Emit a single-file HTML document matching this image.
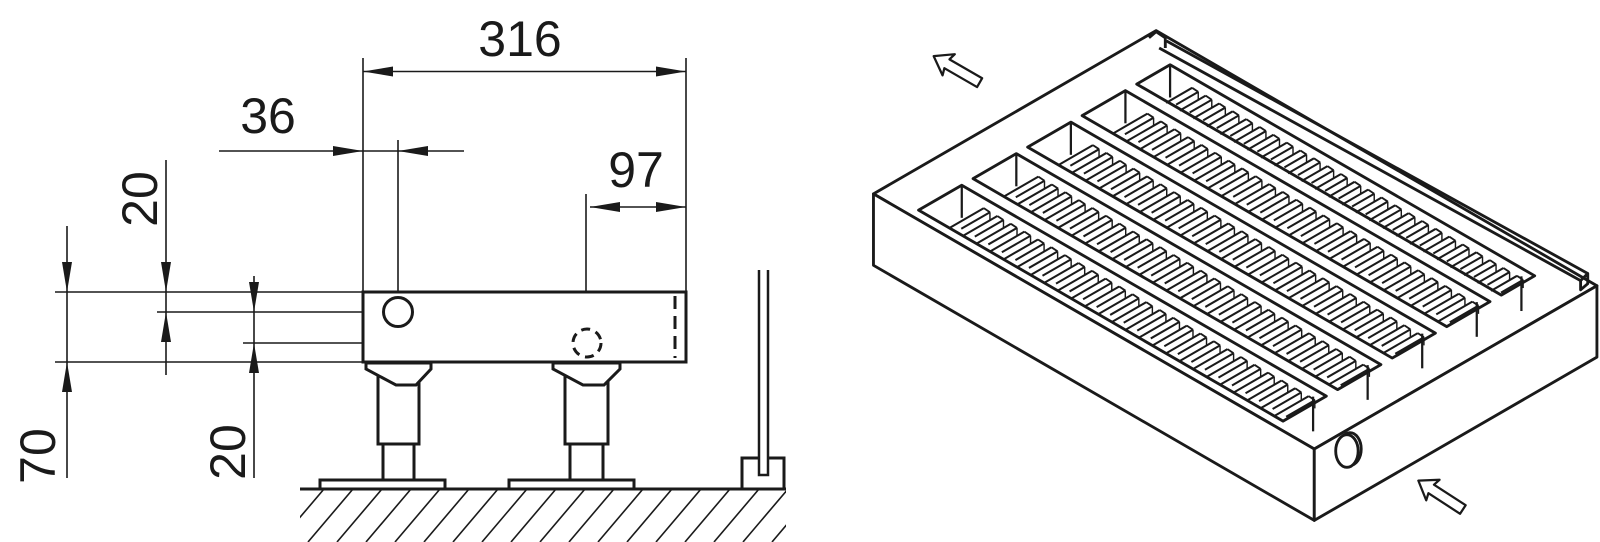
<!DOCTYPE html>
<html><head><meta charset="utf-8"><style>
html,body{margin:0;padding:0;background:#fff;width:1600px;height:542px;overflow:hidden}
svg{display:block}
text{font-family:"Liberation Sans",sans-serif;font-size:50px;fill:#1a1a1a}
</style></head><body>
<svg id="s" width="1600" height="542" viewBox="0 0 1600 542" xmlns="http://www.w3.org/2000/svg">
<defs><clipPath id="gc"><rect x="300" y="490" width="486" height="52"/></clipPath></defs>
<g stroke="#1a1a1a" fill="none" stroke-width="1.6">
<line x1="363" y1="58" x2="363" y2="292"/><line x1="686" y1="58" x2="686" y2="362"/>
<line x1="363" y1="71.5" x2="686" y2="71.5"/>
<line x1="219" y1="151" x2="464" y2="151"/>
<line x1="398" y1="140" x2="398" y2="312"/>
<line x1="586" y1="194" x2="586" y2="343"/>
<line x1="590" y1="207" x2="686" y2="207"/>
<line x1="67" y1="226" x2="67" y2="478"/>
<line x1="166" y1="160" x2="166" y2="375"/>
<line x1="254" y1="276" x2="254" y2="478"/>
<line x1="55" y1="292" x2="363" y2="292"/><line x1="55" y1="362" x2="363" y2="362"/>
<line x1="157" y1="312" x2="398" y2="312"/><line x1="243" y1="343" x2="586" y2="343"/>
<g clip-path="url(#gc)" id="hatch"></g>
</g>
<g fill="#1a1a1a" id="arrows"></g>
<text x="520" y="56" text-anchor="middle">316</text>
<text x="268" y="133" text-anchor="middle">36</text>
<text x="636" y="187" text-anchor="middle">97</text>
<text transform="translate(140,199) rotate(-90)" text-anchor="middle" dominant-baseline="central">20</text>
<text transform="translate(38,456) rotate(-90)" text-anchor="middle" dominant-baseline="central">70</text>
<text transform="translate(228,452) rotate(-90)" text-anchor="middle" dominant-baseline="central">20</text>
<g stroke="#1a1a1a" fill="#fff" stroke-width="3" stroke-linejoin="miter">
<rect x="363" y="292" width="323" height="70"/>
<circle cx="398" cy="312" r="14.5"/>
<circle cx="587" cy="343" r="14" stroke-dasharray="9,6"/>
<line x1="675" y1="296" x2="675" y2="358" stroke-dasharray="13,7"/>
<rect x="378" y="372" width="41" height="72"/>
<rect x="383" y="444" width="31" height="36"/>
<rect x="320" y="480" width="125" height="9"/>
<polygon points="366,363 431,363 431,369 416,385 396,385 366,369"/>
<rect x="565" y="372" width="43" height="72"/>
<rect x="570" y="444" width="33" height="36"/>
<rect x="509" y="480" width="125" height="9"/>
<polygon points="553,363 620,363 620,369 604,385 583,385 553,369"/>
<line x1="300" y1="489" x2="786" y2="489"/>
<path d="M759,270 L759,475 L768,475 L768,270" fill="none" stroke-width="2.5"/>
<path d="M742,489 L742,458 L759,458 M768,458 L784,458 L784,489" fill="none"/>
</g>
<g transform="scale(1.0204)" stroke="#1a1a1a" fill="none" stroke-width="2.8" stroke-linejoin="round" id="iso"></g>
</svg>
<script>
var NS="http://www.w3.org/2000/svg";
function el(p,t,a){var e=document.createElementNS(NS,t);for(var k in a)e.setAttribute(k,a[k]);p.appendChild(e);return e;}
var h=document.getElementById('hatch');
for(var x=250;x<800;x+=29){el(h,'line',{x1:x,y1:542,x2:x+45,y2:489});}
var ar=document.getElementById('arrows');
function ah(x,y,dx,dy){var L=30,W=5,px=-dy,py=dx;
el(ar,'polygon',{points:x+','+y+' '+(x-dx*L+px*W)+','+(y-dy*L+py*W)+' '+(x-dx*L-px*W)+','+(y-dy*L-py*W)});}
ah(363,71.5,-1,0);ah(686,71.5,1,0);
ah(363,151,1,0);ah(398,151,-1,0);
ah(590,207,-1,0);ah(686,207,1,0);
ah(67,292,0,1);ah(67,362,0,-1);
ah(166,292,0,1);ah(166,312,0,-1);
ah(254,312,0,1);ah(254,343,0,-1);
var g=document.getElementById('iso');
function P(A,B){return [856+4.32*A+2.77*B,190+2.50*A-1.60*B];}
function pts(a){return a.map(function(p){return p[0].toFixed(1)+','+p[1].toFixed(1)}).join(' ');}
var H=70;
el(g,'polygon',{points:pts([P(0,0),[1133,30],[1565,280],P(100,0)]),fill:'#fff'});
el(g,'polygon',{points:pts([P(0,0),P(100,0),[1288,440+H],[856,190+H]]),fill:'#fff'});
el(g,'polygon',{points:pts([P(100,0),[1565,280],[1565,280+H],[1288,440+H]]),fill:'#fff'});
var slots=[[3,18.3],[22.3,37.6],[41.6,56.9],[60.9,76.2],[80.2,92]];
slots.forEach(function(s){
 var B0=s[0],B1=s[1],A0=8.3,A1=91;
 el(g,'polygon',{points:pts([P(A0,B0),P(A0,B1),P(A1,B1),P(A1,B0)])});
 var c=P(A0,B1);el(g,'line',{x1:c[0],y1:c[1],x2:c[0],y2:c[1]+32,'stroke-width':2.2});
 var e=P(A1-3,B1);el(g,'line',{x1:e[0],y1:e[1]+8,x2:e[0],y2:e[1]+42,'stroke-width':2.2});
 var n=25,len=(B1-B0)*0.78;
 for(var i=0;i<n;i++){
  var A=A0+5+i*(A1-A0-9)/(n-1);
  var t=P(A,B1);t=[t[0],t[1]+10];
  var dx=-2.77*len,dy=1.6*len;
  el(g,'line',{x1:t[0],y1:t[1],x2:t[0]+dx,y2:t[1]+dy,'stroke-width':2});
  el(g,'line',{x1:t[0]+6,y1:t[1]+4,x2:t[0]+6+dx*0.85,y2:t[1]+4+dy*0.85,'stroke-width':2});
  el(g,'line',{x1:t[0],y1:t[1],x2:t[0]+6,y2:t[1]+4,'stroke-width':1.8});
  el(g,'line',{x1:t[0]+6,y1:t[1]+4,x2:t[0]+6,y2:t[1]+12,'stroke-width':1.4});
 }
});
el(g,'line',{x1:1143,y1:40,x2:1556,y2:268});
el(g,'line',{x1:1136,y1:47,x2:1549,y2:275});
el(g,'polyline',{points:'1126,37 1133,31 1142,37 1142,47'});
el(g,'polyline',{points:'1549,275 1556,268 1556,278 1549,284 1549,275'});
el(g,'ellipse',{cx:1323,cy:440,rx:11,ry:16,fill:'#fff'});
el(g,'ellipse',{cx:1320,cy:442,rx:11,ry:16,fill:'#fff'});
function blk(x,y,ang){el(g,'polygon',{points:'0,0 17,-12 15,-5 52,-5 52,5 15,5 17,12',transform:'translate('+x+','+y+') rotate('+ang+')','stroke-width':2.2,fill:'#fff'});}
blk(915,55,30);blk(1390,471,33);
</script>
</body></html>
